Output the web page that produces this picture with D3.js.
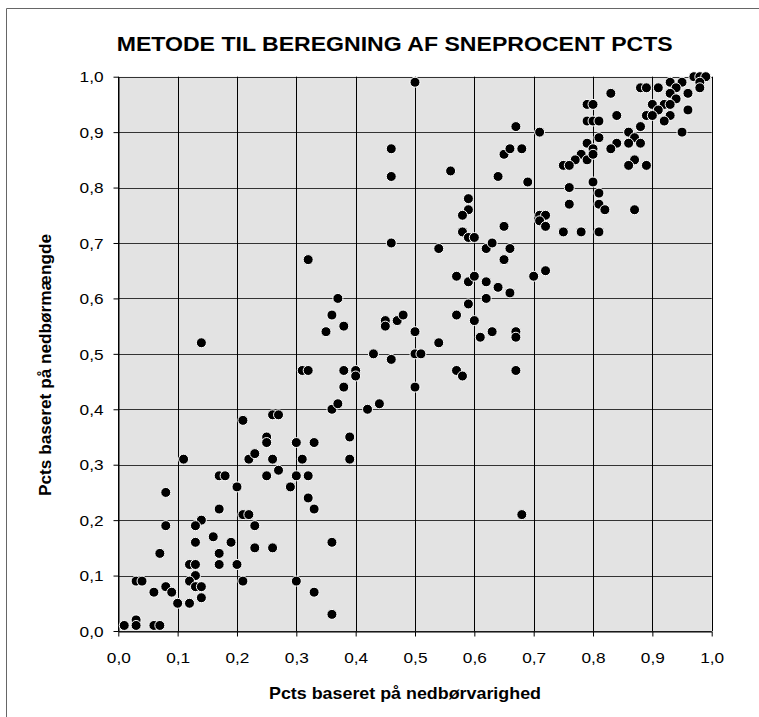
<!DOCTYPE html>
<html>
<head>
<meta charset="utf-8">
<script src="https://d3js.org/d3.v7.min.js"></script>
<style>
  body { margin: 0; background: #fff; }
  text { font-family: "Liberation Sans", Arial, sans-serif; }
</style>
</head>
<body>
<svg width="759" height="717"></svg>
<script>
// Pcts baseret på nedbørvarighed (x) og nedbørmængde (y)
var varighed = [
  0.50, 0.46, 0.46, 0.46, 0.32, 0.37, 0.36, 0.38, 0.35, 0.45, 0.45, 0.47, 0.48, 0.50, 0.14, 0.43, 0.46, 0.50,
  0.97, 0.98, 0.99, 0.98, 0.98, 0.88, 0.89, 0.91, 0.93, 0.95, 0.94, 0.93, 0.96, 0.94, 0.83, 0.79, 0.80,
  0.90, 0.92, 0.93, 0.91, 0.96, 0.89, 0.90, 0.93, 0.92, 0.79, 0.80, 0.81, 0.84, 0.88, 0.95, 0.86,
  0.87, 0.86, 0.84, 0.88, 0.81, 0.79, 0.80, 0.83, 0.87, 0.86, 0.89, 0.78, 0.77, 0.79, 0.80, 0.75, 0.76,
  0.67, 0.71, 0.65, 0.66, 0.68, 0.56, 0.64, 0.69, 0.76, 0.80, 0.81, 0.76, 0.81, 0.82, 0.87,
  0.59, 0.59, 0.58, 0.71, 0.72, 0.71, 0.72, 0.65, 0.75, 0.78, 0.81, 0.58, 0.59, 0.60, 0.54, 0.62, 0.63,
  0.66, 0.65, 0.70, 0.72, 0.57, 0.59, 0.60, 0.62, 0.64, 0.66, 0.62, 0.59, 0.57, 0.60, 0.61, 0.63,
  0.67, 0.67, 0.54, 0.51,
  0.57, 0.58, 0.67, 0.50, 0.68,
  0.31, 0.32, 0.38, 0.40, 0.40, 0.38, 0.36, 0.37, 0.42, 0.44, 0.39, 0.39, 0.21, 0.26, 0.27, 0.25, 0.25,
  0.22, 0.23, 0.26, 0.30, 0.33, 0.31, 0.11, 0.17, 0.18, 0.25, 0.27, 0.20, 0.29, 0.30, 0.32, 0.32, 0.33,
  0.08, 0.17, 0.21, 0.22, 0.23, 0.14, 0.13, 0.08, 0.16, 0.13, 0.19, 0.23, 0.26, 0.36, 0.07, 0.17,
  0.12, 0.13, 0.17, 0.20, 0.13, 0.12, 0.03, 0.04, 0.21, 0.30, 0.13, 0.14, 0.08, 0.06, 0.09, 0.33,
  0.14, 0.10, 0.12, 0.36, 0.03, 0.03, 0.01, 0.06, 0.07
];
var maengde = [
  0.99, 0.87, 0.82, 0.70, 0.67, 0.60, 0.57, 0.55, 0.54, 0.56, 0.55, 0.56, 0.57, 0.54, 0.52, 0.50, 0.49, 0.50,
  1.00, 1.00, 1.00, 0.99, 0.98, 0.98, 0.98, 0.98, 0.99, 0.99, 0.98, 0.97, 0.97, 0.96, 0.97, 0.95, 0.95,
  0.95, 0.95, 0.95, 0.94, 0.94, 0.93, 0.93, 0.93, 0.92, 0.92, 0.92, 0.92, 0.93, 0.91, 0.90, 0.90,
  0.89, 0.88, 0.88, 0.88, 0.89, 0.88, 0.87, 0.87, 0.85, 0.84, 0.84, 0.86, 0.85, 0.85, 0.86, 0.84, 0.84,
  0.91, 0.90, 0.86, 0.87, 0.87, 0.83, 0.82, 0.81, 0.80, 0.81, 0.79, 0.77, 0.77, 0.76, 0.76,
  0.78, 0.76, 0.75, 0.75, 0.75, 0.74, 0.73, 0.73, 0.72, 0.72, 0.72, 0.72, 0.71, 0.71, 0.69, 0.69, 0.70,
  0.69, 0.67, 0.64, 0.65, 0.64, 0.63, 0.64, 0.63, 0.62, 0.61, 0.60, 0.59, 0.57, 0.56, 0.53, 0.54,
  0.54, 0.53, 0.52, 0.50,
  0.47, 0.46, 0.47, 0.44, 0.21,
  0.47, 0.47, 0.47, 0.47, 0.46, 0.44, 0.40, 0.41, 0.40, 0.41, 0.35, 0.31, 0.38, 0.39, 0.39, 0.35, 0.34,
  0.31, 0.32, 0.31, 0.34, 0.34, 0.31, 0.31, 0.28, 0.28, 0.28, 0.29, 0.26, 0.26, 0.28, 0.28, 0.24, 0.22,
  0.25, 0.22, 0.21, 0.21, 0.19, 0.20, 0.19, 0.19, 0.17, 0.16, 0.16, 0.15, 0.15, 0.16, 0.14, 0.14,
  0.12, 0.12, 0.12, 0.12, 0.10, 0.09, 0.09, 0.09, 0.09, 0.09, 0.08, 0.08, 0.08, 0.07, 0.07, 0.07,
  0.06, 0.05, 0.05, 0.03, 0.02, 0.01, 0.01, 0.01, 0.01
];
var tickValues = [0, 0.1, 0.2, 0.3, 0.4, 0.5, 0.6, 0.7, 0.8, 0.9, 1.0];
var title = "METODE TIL BEREGNING AF SNEPROCENT PCTS";
var xLabel = "Pcts baseret på nedbørvarighed";
var yLabel = "Pcts baseret på nedbørmængde";

var svg = d3.select("svg");
var plotLeft = 118.3, plotRight = 711.7, plotTop = 76.7, plotBottom = 631;

var x = d3.scaleLinear().domain([0, 1]).range([plotLeft, plotRight]);
var y = d3.scaleLinear().domain([0, 1]).range([plotBottom, plotTop]);
var fmt = function (d) { return d3.format(".1f")(d).replace(".", ","); };

// outer frame (cut at right/bottom)
svg.append("path")
    .attr("d", "M6.5,717 V8.5 H759")
    .attr("fill", "none")
    .attr("stroke", "#666");

// plot area
svg.append("rect")
    .attr("x", plotLeft).attr("y", plotTop)
    .attr("width", plotRight - plotLeft).attr("height", plotBottom - plotTop)
    .attr("fill", "#e3e3e3");

// grid
svg.append("g").selectAll("line").data(tickValues).enter().append("line")
    .attr("x1", plotLeft).attr("x2", plotRight)
    .attr("y1", function (d) { return Math.round(y(d)) + 0.5; })
    .attr("y2", function (d) { return Math.round(y(d)) + 0.5; })
    .attr("stroke", "#333");
svg.append("g").selectAll("line").data(tickValues).enter().append("line")
    .attr("y1", plotTop).attr("y2", plotBottom)
    .attr("x1", function (d) { return Math.round(x(d)) + 0.5; })
    .attr("x2", function (d) { return Math.round(x(d)) + 0.5; })
    .attr("stroke", "#000");

// axes
var xAxis = svg.append("g")
    .attr("transform", "translate(0," + (Math.round(plotBottom) + 0.5) + ")")
    .call(d3.axisBottom(x).tickValues(tickValues).tickFormat(fmt).tickSize(5).tickSizeOuter(0));
var yAxis = svg.append("g")
    .attr("transform", "translate(" + (Math.round(plotLeft) + 0.5) + ",0)")
    .call(d3.axisLeft(y).tickValues(tickValues).tickFormat(fmt).tickSize(5).tickSizeOuter(0));
[xAxis, yAxis].forEach(function (a) {
  a.select(".domain").attr("stroke", "#000");
  a.selectAll(".tick line").attr("stroke", "#000");
  a.selectAll("text")
      .attr("fill", "#000")
      .style("font-size", "15px")
      .style("font-family", "'Liberation Sans', Arial, sans-serif");
});
// tick labels are a bit wide in the original
xAxis.selectAll("text").attr("dy", null).attr("y", 32).attr("transform", "scale(1.15,1)");
yAxis.selectAll("text").attr("x", -13).attr("dy", "0.35em").attr("transform", "scale(1.15,1)");

// points
svg.append("g").selectAll("circle")
    .data(d3.range(varighed.length))
    .enter().append("circle")
    .attr("cx", function (i) { return x(varighed[i]); })
    .attr("cy", function (i) { return y(maengde[i]); })
    .attr("r", 5)
    .attr("fill", "#000")
    .attr("stroke", "#fff")
    .attr("stroke-width", 1);

// title and labels
svg.append("text")
    .attr("x", 116.7).attr("y", 51)
    .attr("textLength", 556).attr("lengthAdjust", "spacingAndGlyphs")
    .style("font-size", "21px").style("font-weight", "bold")
    .text(title);
svg.append("text")
    .attr("x", 405).attr("y", 699)
    .attr("text-anchor", "middle")
    .attr("textLength", 272).attr("lengthAdjust", "spacingAndGlyphs")
    .style("font-size", "17px").style("font-weight", "bold")
    .text(xLabel);
svg.append("text")
    .attr("transform", "translate(51,365) rotate(-90)")
    .attr("text-anchor", "middle")
    .attr("textLength", 262).attr("lengthAdjust", "spacingAndGlyphs")
    .style("font-size", "17px").style("font-weight", "bold")
    .text(yLabel);
</script>
</body>
</html>
